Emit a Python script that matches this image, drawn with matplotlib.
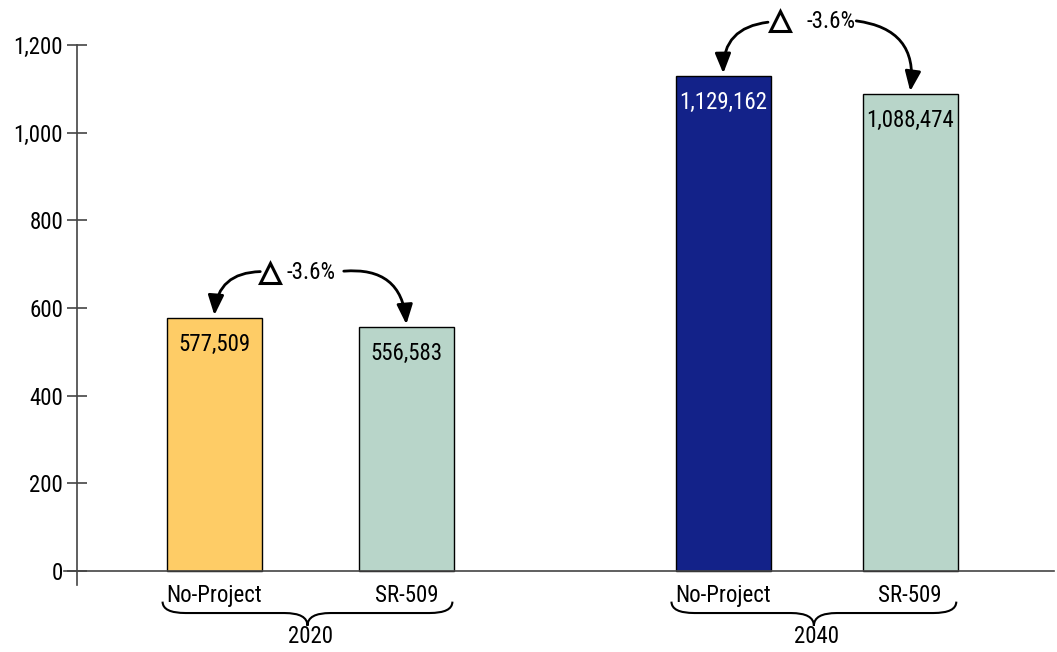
import numpy as np
import matplotlib
matplotlib.use("Agg")
import matplotlib.pyplot as plt
from matplotlib.path import Path
from matplotlib.patches import PathPatch, FancyArrowPatch

plt.rcParams['font.family'] = ['Roboto Condensed', 'Archivo Narrow', 'DejaVu Sans']

# data (thousands of vehicle miles)
years = ['2020', '2040']
scenarios = ['No-Project', 'SR-509']
values = [577.509, 556.583, 1129.162, 1088.474]
value_labels = ['577,509', '556,583', '1,129,162', '1,088,474']
change_labels = ['-3.6%', '-3.6%']
bar_colors = ['#FECC66', '#B8D5C9', '#132289', '#B8D5C9']
text_colors = ['black', 'black', 'white', 'black']
xpos = np.array([0.716, 1.716, 3.367, 4.341])


def draw_brace(ax, x0, x1, y_top, y_mid, y_tip):
    xm = (x0 + x1) / 2
    r = 0.12
    verts = [(x0, y_top),
             (x0, y_mid), (x0 + r, y_mid),
             (xm - r, y_mid),
             (xm, y_mid), (xm, y_tip),
             (xm, y_mid), (xm + r, y_mid),
             (x1 - r, y_mid),
             (x1, y_mid), (x1, y_top)]
    codes = [Path.MOVETO,
             Path.CURVE3, Path.CURVE3,
             Path.LINETO,
             Path.CURVE3, Path.CURVE3,
             Path.CURVE3, Path.CURVE3,
             Path.LINETO,
             Path.CURVE3, Path.CURVE3]
    p = PathPatch(Path(verts, codes), fill=False, lw=1.5, edgecolor='black', clip_on=False)
    ax.add_patch(p)


def curved_arrow(ax, start, end, rad):
    a = FancyArrowPatch(start, end, connectionstyle=f"arc3,rad={rad}",
                        arrowstyle='-|>,head_length=0.75,head_width=0.3',
                        mutation_scale=16, lw=2, color='black',
                        clip_on=False, shrinkA=0, shrinkB=0)
    ax.add_patch(a)


fig = plt.figure(figsize=(10.57, 6.52), dpi=100)
ax = fig.add_axes([0.0728, 0.1028, 0.9242, 0.8282])

ax.bar(xpos, values, width=0.495, color=bar_colors, edgecolor='black', linewidth=1)
for x, v, lab, tc in zip(xpos, values, value_labels, text_colors):
    ax.annotate(lab, (x, v), xytext=(0, -19), textcoords='offset points',
                ha='center', va='center', fontsize=16.5, color=tc)

ax.set_xlim(0, 5.089)
ax.set_ylim(-32, 1200)
ax.set_yticks(range(0, 1201, 200))
ax.set_yticklabels([f'{t:,}' for t in range(0, 1201, 200)])
ax.tick_params(axis='y', direction='inout', length=14, width=1.2, color='#444444',
               labelsize=16.5, pad=3)
ax.set_xticks(xpos)
ax.set_xticklabels(scenarios * 2)
ax.tick_params(axis='x', length=0, labelsize=16.5, pad=-1)

for s in ['top', 'right', 'bottom']:
    ax.spines[s].set_visible(False)
ax.spines['left'].set_color('#444444')
ax.spines['left'].set_linewidth(1.2)
ax.axhline(0, color='#444444', lw=1.2, xmin=-0.013, clip_on=False)

# braces and year labels
for i, yr in enumerate(years):
    x0 = xpos[2 * i] - 0.27
    x1 = xpos[2 * i + 1] + 0.24
    draw_brace(ax, x0, x1, -70, -96, -125)
    ax.text((xpos[2 * i] + xpos[2 * i + 1]) / 2, -150, yr, ha='center', va='center',
            fontsize=16.5)

# change annotations
# 2020
ax.plot(1.005, 680, marker='^', ms=15, mfc='white', mec='black', mew=2.2, clip_on=False)
ax.text(1.09, 682, change_labels[0], ha='left', va='center', fontsize=16.5)
curved_arrow(ax, (0.955, 683), (xpos[0], values[0] + 6), 0.45)
curved_arrow(ax, (1.39, 684), (xpos[1], values[1] + 6), -0.5)
# 2040
ax.plot(3.66, 1255, marker='^', ms=15, mfc='white', mec='black', mew=2.2, clip_on=False)
ax.text(3.8, 1253, change_labels[1], ha='left', va='center', fontsize=16.5)
curved_arrow(ax, (3.6, 1252), (xpos[2], values[2] + 6), 0.45)
curved_arrow(ax, (4.06, 1255), (xpos[3], values[3] + 6), -0.5)

fig.savefig('out.png', dpi=100)
